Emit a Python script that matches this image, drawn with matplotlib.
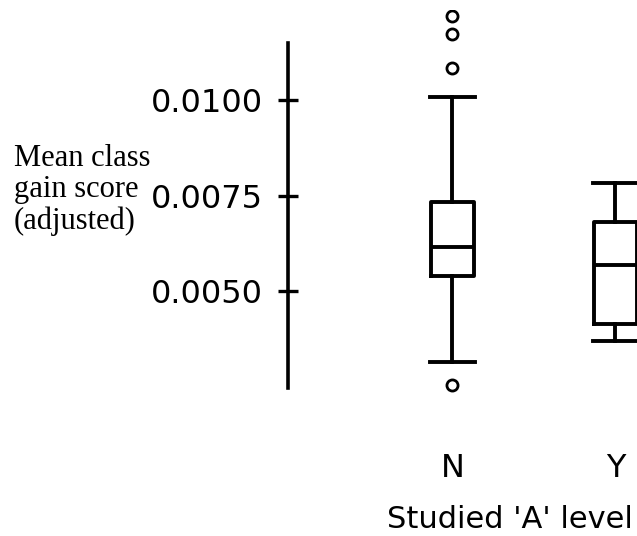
import matplotlib
matplotlib.use("Agg")
import matplotlib.pyplot as plt

# values
groups = ["N", "Y"]
whisker_low = [0.00315, 0.00370]
box_low = [0.00540, 0.00414]
medians = [0.00616, 0.00567]
box_high = [0.00734, 0.00680]
whisker_high = [0.01007, 0.00784]
outliers = [[0.01220, 0.01173, 0.01084, 0.00254], []]

yticks = [0.0050, 0.0075, 0.0100]
ytick_labels = ["0.0050", "0.0075", "0.0100"]

W, H = 637, 536
fig = plt.figure(figsize=(W / 100, H / 100), dpi=100)
ax = fig.add_axes([288 / W, (H - 400) / H, (732 - 288) / W, 390 / H])

stats = []
for i in range(len(groups)):
    stats.append(dict(label=groups[i], whislo=whisker_low[i], q1=box_low[i],
                      med=medians[i], q3=box_high[i], whishi=whisker_high[i],
                      fliers=outliers[i]))

lw = 2.8
ax.bxp(stats, positions=[1, 2], widths=0.264, capwidths=0.28,
       boxprops=dict(color="black", linewidth=lw),
       medianprops=dict(color="black", linewidth=lw),
       whiskerprops=dict(color="black", linewidth=lw),
       capprops=dict(color="black", linewidth=lw),
       flierprops=dict(marker="o", markersize=8, markerfacecolor="white",
                       markeredgecolor="black", markeredgewidth=2.0))

ax.set_xlim(-0.0092, 2.715)
ax.set_ylim(0.002147, 0.012356)

for s in ["top", "right", "bottom"]:
    ax.spines[s].set_visible(False)
ax.spines["left"].set_linewidth(2.6)
ax.spines["left"].set_bounds(0.002461, 0.01149)

ax.set_yticks(yticks)
ax.set_yticklabels(ytick_labels)
ax.tick_params(axis="y", direction="inout", length=14, width=2.4, pad=11,
               labelsize=23)
ax.tick_params(axis="x", length=0, pad=38, labelsize=23)
ax.set_xlabel("Studied 'A' level", fontsize=22, labelpad=15)

fig.text(14 / W, 1 - 190 / H, "Mean class\ngain score\n(adjusted)",
         family="Liberation Serif", fontsize=22, ha="left", va="center",
         linespacing=1.1)

fig.savefig("out.png", dpi=100)
